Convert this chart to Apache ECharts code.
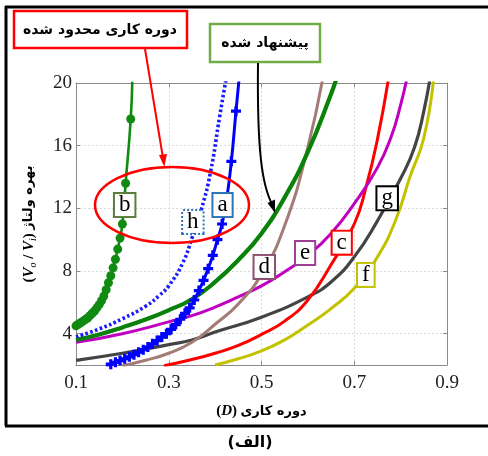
<!DOCTYPE html>
<html>
<head>
<meta charset="utf-8">
<script src="https://cdn.jsdelivr.net/npm/echarts@6/dist/echarts.min.js"></script>
<style>
  html, body { margin: 0; padding: 0; background: #fff; }
  #chart { width: 488px; height: 456px; }
</style>
</head>
<body>
<div id="chart"></div>
<script>
// Axis ticks
const xTicks = [0.1, 0.3, 0.5, 0.7, 0.9];
const yTicks = [4, 8, 12, 16, 20];

// Voltage gain (Vo/Vi) against duty cycle D for each converter
const dutyA = [0.165,0.175,0.185,0.195,0.205,0.215,0.225,0.235,0.245,0.255,0.265,0.275,0.285,0.295,0.305,0.315,0.325,0.335,0.345,0.355,0.365,0.375,0.385,0.395,0.405,0.415,0.425,0.435,0.445,0.455];
const gainA = [1.95,2.05,2.17,2.28,2.40,2.52,2.66,2.82,2.98,3.15,3.35,3.56,3.78,4.00,4.28,4.58,4.92,5.30,5.65,6.15,6.75,7.40,8.15,9.00,10.0,11.0,12.6,15.0,18.2,21.3];

const dutyB = [0.100,0.105,0.110,0.115,0.120,0.125,0.130,0.135,0.140,0.145,0.150,0.155,0.160,0.165,0.170,0.175,0.180,0.185,0.190,0.195,0.200,0.207,0.218,0.2215];
const gainB = [4.50,4.60,4.70,4.80,4.90,5.00,5.15,5.30,5.45,5.65,5.85,6.10,6.40,6.80,7.25,7.70,8.20,8.75,9.40,10.1,11.0,13.6,17.7,20.3];

const dutyC = [0.29,0.35,0.40,0.45,0.50,0.55,0.60,0.65,0.70,0.725,0.75,0.775];
const gainC = [1.95,2.35,2.75,3.25,3.95,4.80,6.15,8.40,11.0,13.3,16.4,20.5];

const dutyD = [0.20,0.25,0.30,0.35,0.40,0.45,0.50,0.55,0.60,0.635];
const gainD = [1.95,2.30,2.75,3.45,4.60,5.90,7.80,10.9,15.9,20.8];

const dutyE = [0.10,0.20,0.30,0.35,0.40,0.45,0.50,0.55,0.60,0.65,0.70,0.75,0.78,0.80,0.815];
const gainE = [3.45,4.00,4.75,5.15,5.70,6.35,7.05,7.95,9.00,10.4,12.3,14.6,16.6,18.6,20.5];

const dutyF = [0.40,0.45,0.50,0.55,0.60,0.65,0.70,0.75,0.79,0.82,0.85,0.872];
const gainF = [2.00,2.40,2.90,3.60,4.55,5.60,6.90,8.90,11.3,14.0,16.5,20.5];

const dutyG = [0.10,0.20,0.30,0.35,0.40,0.50,0.60,0.65,0.70,0.75,0.80,0.83,0.85,0.865];
const gainG = [2.30,2.75,3.30,3.60,4.10,5.05,6.35,7.30,8.90,11.2,13.9,15.9,18.2,20.6];

const dutyH = [0.10,0.15,0.20,0.25,0.28,0.30,0.33,0.35,0.37,0.39,0.41,0.425];
const gainH = [3.80,4.30,4.95,5.75,6.45,7.05,8.50,10.1,11.9,14.3,17.9,20.5];

const dutyP = [0.10,0.15,0.20,0.25,0.30,0.35,0.40,0.45,0.50,0.55,0.60,0.65,0.665];
const gainP = [3.60,3.95,4.40,4.90,5.50,6.20,7.30,8.70,10.4,12.7,15.6,19.3,20.6];

const pairs = (xs, ys) => xs.map((x, i) => [x, ys[i]]);

const FA = 'DejaVu Sans';
const SERIF = 'Liberation Serif';

function tag(text, coord, border, dotted) {
  return {
    symbol: 'rect',
    symbolSize: 1,
    itemStyle: { color: 'rgba(0,0,0,0)' },
    label: {
      show: true,
      position: 'inside',
      formatter: text,
      fontFamily: SERIF,
      fontSize: 23,
      color: '#000',
      lineHeight: 21,
      backgroundColor: '#fff',
      borderColor: border,
      borderWidth: 2,
      borderType: dotted ? [2, 2] : 'solid',
      padding: [0, 4, 1, 4]
    },
    data: [{ coord: coord }]
  };
}

function curve(name, data, color, width, extra) {
  return Object.assign({
    name: name,
    type: 'line',
    data: data,
    smooth: 0.5,
    showSymbol: false,
    symbol: 'none',
    clip: true,
    silent: true,
    animation: false,
    lineStyle: { color: color, width: width },
    itemStyle: { color: color }
  }, extra || {});
}

const plusPath = 'path://M3.4,0H6.6V3.4H10V6.6H6.6V10H3.4V6.6H0V3.4H3.4Z';

const series = [
  curve('f', pairs(dutyF, gainF), '#c2c200', 3, { markPoint: tag('f', [0.725, 7.75], '#c2c200') }),
  curve('g', pairs(dutyG, gainG), '#444444', 3.2, { markPoint: tag('g', [0.771, 12.64], '#000000') }),
  curve('c', pairs(dutyC, gainC), '#ff0000', 3, { markPoint: tag('c', [0.673, 9.81], '#ff0000') }),
  curve('e', pairs(dutyE, gainE), '#c000c0', 3, { markPoint: tag('e', [0.594, 9.15], '#9c3f98') }),
  curve('d', pairs(dutyD, gainD), '#a47c76', 3, { markPoint: tag('d', [0.506, 8.26], '#8c4f70') }),
  curve('proposed', pairs(dutyP, gainP), '#0a820a', 4.2),
  curve('h', pairs(dutyH, gainH), '#1a1aff', 3.6, {
    lineStyle: { color: '#1a1aff', width: 3.6, type: [2.6, 2.4] },
    markPoint: tag('h', [0.352, 11.13], '#2e75b6', true)
  }),
  curve('a', pairs(dutyA, gainA), '#0000ff', 3, {
    showSymbol: true, symbol: plusPath, symbolSize: 10,
    itemStyle: { color: '#0000ff' },
    markPoint: tag('a', [0.416, 12.21], '#2e75b6')
  }),
  curve('b', pairs(dutyB, gainB), '#108a10', 2.6, {
    showSymbol: true, symbol: 'circle', symbolSize: 9,
    itemStyle: { color: '#108a10' },
    markPoint: tag('b', [0.205, 12.21], '#5a7e3a')
  })
];

const axisCommon = {
  type: 'value',
  axisLine: { show: true, lineStyle: { color: '#8a8a8a', width: 1 } },
  axisTick: { show: true, inside: true, length: 4, lineStyle: { color: '#8a8a8a' } },
  splitLine: { show: false }
};

const option = {
  animation: false,
  backgroundColor: '#fff',
  grid: { left: 76, right: 41, top: 83, bottom: 91, containLabel: false },
  xAxis: [
    Object.assign({}, axisCommon, {
      min: 0.1, max: 0.9, position: 'bottom',
      axisTick: Object.assign({}, axisCommon.axisTick, { customValues: xTicks }),
      axisLabel: { customValues: xTicks, fontFamily: SERIF, fontSize: 19, color: '#222', margin: 9,
        formatter: v => v.toFixed(1) },
      splitLine: { show: true, lineStyle: { color: '#d9d9d9', type: [2, 2], width: 1 } },
      name: '{p|(}{i|D}{p|)} {fa|دوره کاری}',
      nameLocation: 'middle',
      nameGap: 39,
      nameTextStyle: {
        rich: {
          p: { fontFamily: SERIF, fontSize: 15, fontWeight: 'bold', color: '#000' },
          i: { fontFamily: SERIF, fontSize: 15, fontWeight: 'bold', fontStyle: 'italic', color: '#000' },
          fa: { fontFamily: FA, fontSize: 13, fontWeight: 'bold', color: '#000' }
        }
      }
    }),
    Object.assign({}, axisCommon, {
      min: 0.1, max: 0.9, position: 'top',
      axisTick: Object.assign({}, axisCommon.axisTick, { customValues: xTicks }),
      axisLabel: { show: false }
    })
  ],
  yAxis: [
    Object.assign({}, axisCommon, {
      min: 2, max: 20, position: 'left',
      axisTick: Object.assign({}, axisCommon.axisTick, { customValues: yTicks }),
      axisLabel: { customValues: yTicks, fontFamily: SERIF, fontSize: 19, color: '#222', margin: 4 },
      splitLine: { show: true, lineStyle: { color: '#d9d9d9', type: [2, 2], width: 1 } },
      name: '{p|(}{i|V}{s|o}{p| / }{i|V}{s|i}{p|)} {fa|بهره ولتاژ}',
      nameLocation: 'middle',
      nameRotate: 90,
      nameGap: 38,
      nameTextStyle: {
        rich: {
          p: { fontFamily: SERIF, fontSize: 15, fontWeight: 'bold', color: '#000', lineHeight: 18 },
          i: { fontFamily: SERIF, fontSize: 15, fontWeight: 'bold', fontStyle: 'italic', color: '#000', lineHeight: 18 },
          s: { fontFamily: SERIF, fontSize: 10, fontStyle: 'italic', color: '#000', verticalAlign: 'bottom', lineHeight: 14 },
          fa: { fontFamily: FA, fontSize: 13, fontWeight: 'bold', color: '#000', lineHeight: 18 }
        }
      }
    }),
    Object.assign({}, axisCommon, {
      min: 2, max: 20, position: 'right',
      axisTick: Object.assign({}, axisCommon.axisTick, { customValues: yTicks }),
      axisLabel: { show: false }
    })
  ],
  series: series,
  graphic: [
    // outer frame
    { type: 'line', shape: { x1: 6, y1: 6, x2: 6, y2: 426 }, style: { stroke: '#000', lineWidth: 3 }, z: 100 },
    { type: 'line', shape: { x1: 5, y1: 7, x2: 488, y2: 7 }, style: { stroke: '#000', lineWidth: 3 }, z: 100 },
    { type: 'line', shape: { x1: 5, y1: 426, x2: 488, y2: 426 }, style: { stroke: '#000', lineWidth: 3 }, z: 100 },
    // limited-duty-cycle callout
    { type: 'rect', shape: { x: 14, y: 11, width: 173, height: 37 }, style: { fill: '#fff', stroke: '#ff0000', lineWidth: 2.5 }, z: 100 },
    { type: 'text', x: 100, y: 30, style: { text: 'دوره کاری محدود شده', font: 'bold 14px "' + FA + '"', fill: '#000', align: 'center', verticalAlign: 'middle' }, z: 101 },
    { type: 'line', shape: { x1: 145, y1: 49, x2: 163, y2: 158 }, style: { stroke: '#ff0000', lineWidth: 2 }, z: 100 },
    { type: 'polygon', shape: { points: [[164.3, 167], [159, 155], [167, 154]] }, style: { fill: '#ff0000' }, z: 100 },
    { type: 'ellipse', shape: { cx: 172, cy: 205, rx: 77, ry: 38 }, style: { fill: 'none', stroke: '#ff0000', lineWidth: 2.5 }, z: 100 },
    // proposed callout
    { type: 'rect', shape: { x: 210, y: 24, width: 110, height: 38 }, style: { fill: '#fff', stroke: '#70ad47', lineWidth: 2.5 }, z: 100 },
    { type: 'text', x: 265, y: 43, style: { text: 'پیشنهاد شده', font: 'bold 14px "' + FA + '"', fill: '#000', align: 'center', verticalAlign: 'middle' }, z: 101 },
    { type: 'bezierCurve', shape: { x1: 258, y1: 63, cpx1: 257, cpy1: 150, cpx2: 262, cpy2: 185, x2: 272, y2: 204 }, style: { stroke: '#000', lineWidth: 2, fill: 'none' }, z: 100 },
    { type: 'polygon', shape: { points: [[275, 213], [267.5, 203], [275, 199.5]] }, style: { fill: '#000' }, z: 100 },
    // panel caption
    { type: 'text', x: 250, y: 443, style: { text: '(الف)', font: 'bold 16px "' + FA + '"', fill: '#000', align: 'center', verticalAlign: 'middle' }, z: 101 }
  ]
};

const chart = echarts.init(document.getElementById('chart'), null, { renderer: 'canvas' });
chart.setOption(option);
</script>
</body>
</html>
